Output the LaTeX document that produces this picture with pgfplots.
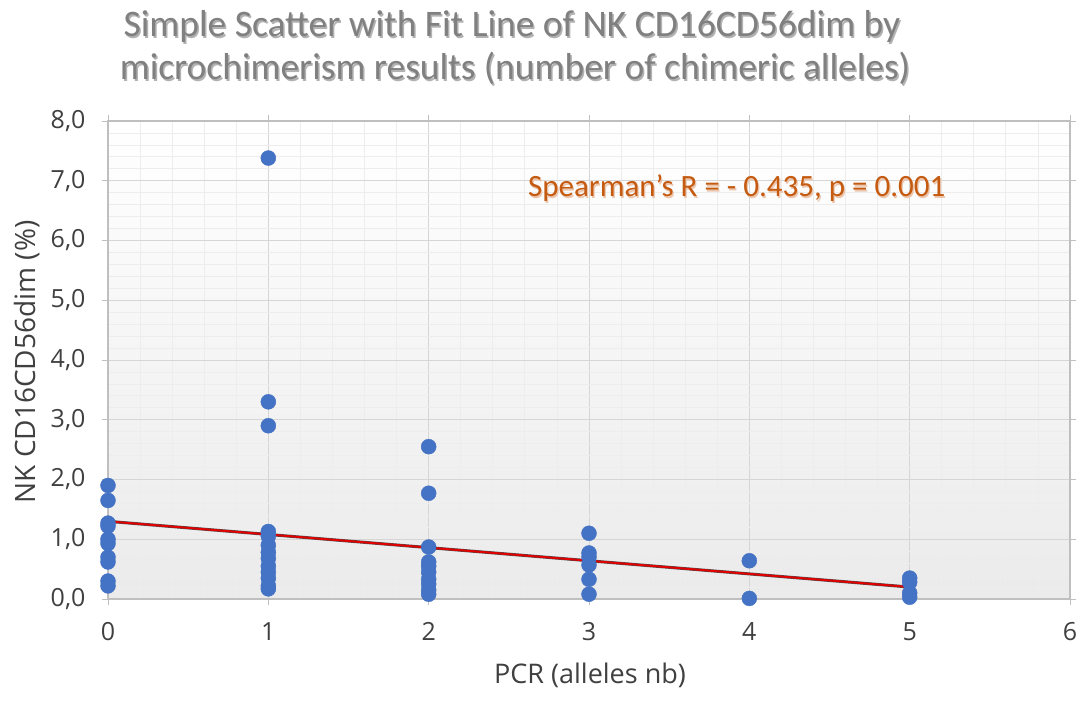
\documentclass[border=0pt]{standalone}
\usepackage{fontspec}
\setmainfont{Open Sans}
\newfontfamily\calib{Carlito}
\usepackage{pgfplots}
\pgfplotsset{compat=1.18}
\definecolor{dotblue}{HTML}{4472C4}
\definecolor{anno}{HTML}{C55A11}
\definecolor{fitred}{HTML}{E00000}
\pgfplotstableread{
x y
0 1.90
0 1.65
0 1.27
0 1.22
0 1.00
0 0.93
0 0.70
0 0.62
0 0.30
0 0.22
1 7.38
1 3.30
1 2.90
1 1.13
1 1.05
1 0.90
1 0.78
1 0.68
1 0.55
1 0.45
1 0.35
1 0.22
1 0.17
2 2.55
2 1.77
2 0.87
2 0.62
2 0.55
2 0.45
2 0.33
2 0.25
2 0.15
2 0.08
3 1.10
3 0.77
3 0.70
3 0.57
3 0.33
3 0.08
4 0.64
4 0.01
5 0.35
5 0.28
5 0.10
5 0.03
}\pcrdata
\pgfplotstableread{
x y
0 1.30
5 0.20
}\fitdata
\begin{document}
\begin{tikzpicture}[x=1pt,y=1pt]
\useasboundingbox (0,0) rectangle (1084,702);
\begin{axis}[
  at={(108pt,103pt)}, anchor=south west,
  scale only axis, width=962pt, height=478pt,
  xmin=0, xmax=6, ymin=0, ymax=8,
  xtick={0,1,2,3,4,5,6}, ytick={0,1,2,3,4,5,6,7,8},
  minor x tick num=4, minor y tick num=4,
  grid=both,
  major grid style={draw=black!16, line width=1pt},
  minor grid style={draw=black!7, line width=0.8pt},
  axis line style={draw=black!25, line width=1.2pt},
  tick align=outside, major tick length=6pt, minor tick length=0pt,
  tick style={draw=black!25, line width=1pt},
  axis background/.style={top color=white, bottom color=black!8},
  clip=false,
  tick label style={font=\fontsize{25}{30}\selectfont, text=black!75},
  /pgf/number format/assume math mode=true,
  y tick label style={/pgf/number format/fixed, /pgf/number format/fixed zerofill, /pgf/number format/precision=1, /pgf/number format/use comma, xshift=-13pt},
  x tick label style={yshift=-14pt},
]
\addplot[draw=black!70, line width=3pt, forget plot] table[x=x,y=y] {\fitdata};
\addplot[only marks, mark=*, mark size=7.5pt, mark options={fill=dotblue, draw=dotblue}] table[x=x,y=y] {\pcrdata};
\addplot[draw=fitred, line width=2pt] table[x=x,y=y] {\fitdata};
\end{axis}
% axis labels
\node[text=black!75, font=\fontsize{27}{32}\selectfont] at (590,27) {PCR (alleles nb)};
\node[text=black!75, font=\fontsize{28}{32}\selectfont, rotate=90] at (27,340) {NK CD16CD56dim (\%)};
% title with shadow
\begin{scope}[font=\calib\fontsize{37.5}{44}\selectfont]
\node[anchor=base, text=black!30] at (513.5,663.5) {Simple Scatter with Fit Line of NK CD16CD56dim by};
\node[anchor=base, text=black!50] at (512,665) {Simple Scatter with Fit Line of NK CD16CD56dim by};
\node[anchor=base, text=black!30] at (516.5,620.5) {microchimerism results (number of chimeric alleles)};
\node[anchor=base, text=black!50] at (515,622) {microchimerism results (number of chimeric alleles)};
\end{scope}
% annotation
\node[anchor=base west, inner sep=0pt, text=anno!35!white, font=\calib\fontsize{31}{35}\selectfont] at (529.2,503.8) {Spearman’s R = - 0.435, p = 0.001};
\node[anchor=base west, inner sep=0pt, text=anno, font=\calib\fontsize{31}{35}\selectfont] at (528,505) {Spearman’s R = - 0.435, p = 0.001};
\end{tikzpicture}
\end{document}
